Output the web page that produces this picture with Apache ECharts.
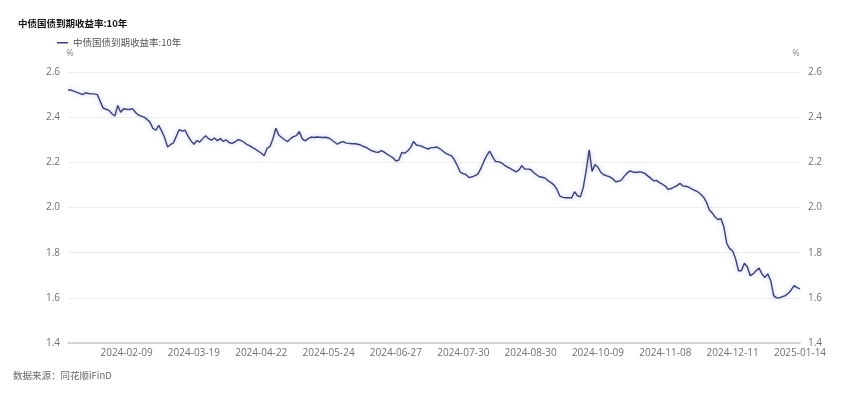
<!DOCTYPE html>
<html>
<head>
<meta charset="utf-8">
<script src="https://cdn.jsdelivr.net/npm/echarts@6/dist/echarts.min.js"></script>
<style>
html,body{margin:0;padding:0;background:#fff;}
#chart{width:865px;height:395px;}
</style>
</head>
<body>
<div id="chart"></div>
<script>
const titleText = '中债国债到期收益率:10年';
const seriesName = '中债国债到期收益率:10年';
const sourceText = '数据来源：同花顺iFinD';
const yUnit = '%';
const yTicks = [1.4, 1.6, 1.8, 2.0, 2.2, 2.4, 2.6];

const dates = [
'2024-01-15','2024-01-16','2024-01-17','2024-01-18','2024-01-19','2024-01-22','2024-01-23','2024-01-24','2024-01-25','2024-01-26','2024-01-29','2024-01-30','2024-01-31',
'2024-02-01','2024-02-02','2024-02-04','2024-02-05','2024-02-06','2024-02-07','2024-02-08','2024-02-09',
'2024-02-18','2024-02-19','2024-02-20','2024-02-21','2024-02-22','2024-02-23','2024-02-26','2024-02-27','2024-02-28','2024-02-29',
'2024-03-01','2024-03-04','2024-03-05','2024-03-06','2024-03-07','2024-03-08','2024-03-11','2024-03-12','2024-03-13','2024-03-14','2024-03-15','2024-03-18','2024-03-19',
'2024-03-20','2024-03-21','2024-03-22','2024-03-25','2024-03-26','2024-03-27','2024-03-28','2024-03-29',
'2024-04-01','2024-04-02','2024-04-03','2024-04-07','2024-04-08','2024-04-09','2024-04-10','2024-04-11','2024-04-12','2024-04-15','2024-04-16','2024-04-17','2024-04-18','2024-04-19','2024-04-22',
'2024-04-23','2024-04-24','2024-04-25','2024-04-26','2024-04-28','2024-04-29','2024-04-30',
'2024-05-06','2024-05-07','2024-05-08','2024-05-09','2024-05-10','2024-05-11','2024-05-13','2024-05-14','2024-05-15','2024-05-16','2024-05-17','2024-05-20','2024-05-21','2024-05-22','2024-05-23','2024-05-24',
'2024-05-27','2024-05-28','2024-05-29','2024-05-30','2024-05-31',
'2024-06-03','2024-06-04','2024-06-05','2024-06-06','2024-06-07','2024-06-11','2024-06-12','2024-06-13','2024-06-14','2024-06-17','2024-06-18','2024-06-19','2024-06-20','2024-06-21','2024-06-24','2024-06-25','2024-06-26','2024-06-27',
'2024-06-28',
'2024-07-01','2024-07-02','2024-07-03','2024-07-04','2024-07-05','2024-07-08','2024-07-09','2024-07-10','2024-07-11','2024-07-12','2024-07-15','2024-07-16','2024-07-17','2024-07-18','2024-07-19','2024-07-22','2024-07-23','2024-07-24','2024-07-25','2024-07-26','2024-07-29','2024-07-30',
'2024-07-31',
'2024-08-01','2024-08-02','2024-08-05','2024-08-06','2024-08-07','2024-08-08','2024-08-09','2024-08-12','2024-08-13','2024-08-14','2024-08-15','2024-08-16','2024-08-19','2024-08-20','2024-08-21','2024-08-22','2024-08-23','2024-08-26','2024-08-27','2024-08-28','2024-08-29','2024-08-30',
'2024-09-02','2024-09-03','2024-09-04','2024-09-05','2024-09-06','2024-09-09','2024-09-10','2024-09-11','2024-09-12','2024-09-13','2024-09-14','2024-09-18','2024-09-19','2024-09-20','2024-09-23','2024-09-24','2024-09-25','2024-09-26','2024-09-27','2024-09-29','2024-09-30',
'2024-10-08','2024-10-09',
'2024-10-10','2024-10-11','2024-10-12','2024-10-14','2024-10-15','2024-10-16','2024-10-17','2024-10-18','2024-10-21','2024-10-22','2024-10-23','2024-10-24','2024-10-25','2024-10-28','2024-10-29','2024-10-30','2024-10-31',
'2024-11-01','2024-11-04','2024-11-05','2024-11-06','2024-11-07','2024-11-08',
'2024-11-11','2024-11-12','2024-11-13','2024-11-14','2024-11-15','2024-11-18','2024-11-19','2024-11-20','2024-11-21','2024-11-22','2024-11-25','2024-11-26','2024-11-27','2024-11-28','2024-11-29',
'2024-12-02','2024-12-03','2024-12-04','2024-12-05','2024-12-06','2024-12-09','2024-12-10','2024-12-11',
'2024-12-12','2024-12-13','2024-12-16','2024-12-17','2024-12-18','2024-12-19','2024-12-20','2024-12-23','2024-12-24','2024-12-25','2024-12-26','2024-12-27','2024-12-30','2024-12-31',
'2025-01-02','2025-01-03','2025-01-06','2025-01-07','2025-01-08','2025-01-09','2025-01-10','2025-01-13','2025-01-14'
];

const yields = [
2.52,2.52,2.515,2.51,2.505,2.50,2.508,2.505,2.503,2.503,2.50,2.47,2.44,
2.435,2.43,2.415,2.405,2.452,2.422,2.437,2.435,
2.434,2.438,2.422,2.41,2.405,2.40,2.39,2.378,2.35,2.342,
2.364,2.338,2.31,2.268,2.278,2.286,2.316,2.345,2.338,2.342,2.316,2.295,2.28,
2.296,2.29,2.305,2.318,2.305,2.298,2.308,2.296,
2.305,2.293,2.30,2.288,2.284,2.29,2.30,2.297,2.29,2.28,2.274,2.265,2.258,2.25,2.24,
2.229,2.262,2.27,2.305,2.351,2.32,2.31,
2.30,2.292,2.305,2.314,2.318,2.336,2.304,2.295,2.305,2.312,2.31,2.312,2.311,2.31,2.311,2.308,
2.30,2.29,2.28,2.288,2.292,
2.285,2.284,2.282,2.282,2.28,2.276,2.27,2.265,2.256,2.25,2.246,2.244,2.252,2.245,2.236,2.228,2.22,2.206,
2.21,
2.244,2.24,2.25,2.265,2.292,2.277,2.274,2.27,2.264,2.259,2.265,2.266,2.268,2.26,2.25,2.24,2.234,2.229,2.21,2.185,2.156,2.15,
2.145,
2.132,2.136,2.141,2.148,2.173,2.203,2.23,2.25,2.225,2.203,2.203,2.198,2.188,2.18,2.173,2.165,2.158,2.165,2.185,2.17,2.17,2.168,
2.155,2.145,2.136,2.134,2.13,2.118,2.11,2.099,2.08,2.05,2.045,2.043,2.043,2.042,2.07,2.052,2.047,2.09,2.165,2.255,2.16,
2.19,2.178,
2.155,2.145,2.14,2.136,2.128,2.114,2.116,2.121,2.139,2.153,2.162,2.157,2.155,2.158,2.156,2.151,2.14,
2.13,2.118,2.12,2.11,2.103,2.095,
2.08,2.084,2.09,2.097,2.107,2.095,2.094,2.09,2.082,2.076,2.07,2.06,2.047,2.025,1.99,
1.976,1.958,1.947,1.951,1.914,1.84,1.818,1.807,
1.773,1.72,1.72,1.753,1.738,1.698,1.706,1.72,1.732,1.706,1.69,1.706,1.676,1.61,
1.60,1.60,1.605,1.61,1.62,1.635,1.654,1.645,1.64
];

const labelDates = ['2024-02-09','2024-03-19','2024-04-22','2024-05-24','2024-06-27','2024-07-30','2024-08-30','2024-10-09','2024-11-08','2024-12-11','2025-01-14'];

const chart = echarts.init(document.getElementById('chart'), null, {renderer: 'canvas'});
const gray = '#707070';
const numFont = '"Open Sans", "Noto Sans", sans-serif';
const yMin = yTicks[0], yMax = yTicks[yTicks.length - 1];
const yInterval = yTicks[1] - yTicks[0];

function yAxisCfg(pos) {
  return {
    type: 'value', position: pos, min: yMin, max: yMax, interval: yInterval,
    name: yUnit, nameLocation: 'end', nameGap: 14,
    nameTextStyle: {color: '#888', fontSize: 9, fontFamily: numFont, padding: pos === 'right' ? [0, 8, 0, 0] : [0, 0, 0, 4]},
    axisLine: {show: false}, axisTick: {show: false},
    axisLabel: {color: gray, fontSize: 10, margin: 8, fontFamily: numFont, formatter: v => v.toFixed(1)},
    splitLine: {show: pos === 'left', lineStyle: {color: '#eeeeee', width: 1}}
  };
}

chart.setOption({
  animation: false,
  backgroundColor: '#ffffff',
  title: {
    text: titleText, left: 13, top: 14,
    textStyle: {fontSize: 9.5, fontWeight: 'bold', color: '#111', fontFamily: 'Noto Sans CJK SC'}
  },
  legend: {
    data: [{name: seriesName, icon: 'rect'}],
    left: 52, top: 33, itemWidth: 11, itemHeight: 1.5, itemGap: 4,
    textStyle: {fontSize: 9.5, color: '#555', fontFamily: 'Noto Sans CJK SC'}
  },
  graphic: [{
    type: 'text', left: 13, top: 371,
    style: {text: sourceText, fill: '#666', fontSize: 9.5, fontFamily: 'Noto Sans CJK SC'}
  }],
  grid: {left: 68, right: 65, top: 72, bottom: 52, containLabel: false},
  xAxis: {
    type: 'category', data: dates, boundaryGap: false,
    axisLine: {show: true, lineStyle: {color: '#c9c9c9', width: 1.5}},
    axisTick: {show: false},
    axisLabel: {
      color: gray, fontSize: 10, margin: 5, fontFamily: numFont,
      interval: (idx, val) => labelDates.indexOf(val) >= 0
    },
    splitLine: {show: false}
  },
  yAxis: [yAxisCfg('left'), yAxisCfg('right')],
  series: [{
    name: seriesName, type: 'line', data: yields, yAxisIndex: 0,
    showSymbol: false, symbol: 'none', smooth: false,
    itemStyle: {color: '#3d4170'},
    lineStyle: {color: '#3d4170', width: 1.4, shadowColor: 'rgba(150,155,225,0.7)', shadowBlur: 4}
  }]
});
</script>
</body>
</html>
